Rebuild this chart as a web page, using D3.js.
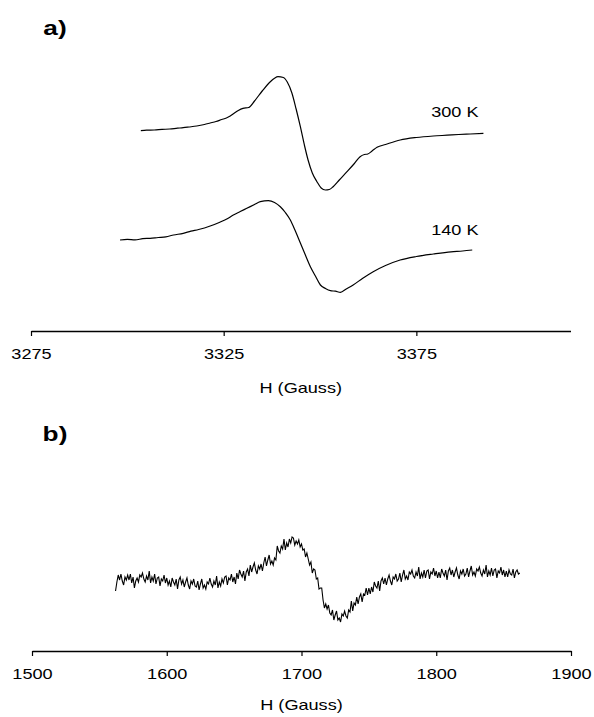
<!DOCTYPE html>
<html>
<head>
<meta charset="utf-8">
<script src="https://cdn.jsdelivr.net/npm/d3@7/dist/d3.min.js"></script>
<style>
body{margin:0;background:#fff;}
text{font-family:"Liberation Sans",Arial,sans-serif;fill:#000;}
</style>
</head>
<body>
<svg id="c" width="594" height="717"></svg>
<script>
// Tick labels and series labels
const ticksA = [3275, 3325, 3375];
const ticksB = [1500, 1600, 1700, 1800, 1900];
const seriesLabels = ["300 K", "140 K"];

// Panel a) spectra: [H (Gauss), intensity (a.u.)]
const spec300 = [
[3303.5,200.3],[3305,200.8],[3307,201],[3309,201.6],[3311,202],[3313,202.8],[3314.5,203.3],[3316,204],[3318,205],[3320,206.5],[3321.5,208],
[3323,209.5],[3324.5,211.5],[3325.7,213],[3326.7,215],[3327.8,218],[3328.8,220.5],[3330,222.6],[3331.5,223.5],[3333,230],[3335,240],
[3337.1,249.3],[3338.2,252.8],[3339.1,254.3],[3340.5,253.5],[3341.5,249],[3342.7,238],[3343.8,222],[3344.9,204.3],[3346,185],[3346.9,171],
[3348,158],[3349.2,149.3],[3350.3,143],[3351.4,141],[3352.4,141.5],[3353.4,144.3],[3355,151],[3357,159.3],[3358.8,167],[3360.4,174.3],
[3361.5,176.5],[3362.4,177],[3363.5,180],[3364.8,183.7],[3367,186.5],[3370.8,191],[3375,193.5],[3379.4,195],[3383,195.8],[3386,196.5],
[3389,197],[3392.4,197.7]
];

const spec140 = [
[3298.1,91],[3300,91.6],[3302,91.2],[3304,92.3],[3305.9,92.7],[3308,93.5],[3310,94.2],[3312,96],[3314.5,97.7],[3316.5,99.8],[3318.5,101.5],
[3321.5,105],[3324,108.8],[3325.8,112],[3327.5,116],[3329.3,119.5],[3331,122.7],[3333,126.5],[3334.5,129.3],[3336.6,130.3],[3338.2,128.5],
[3339.7,124.3],[3341,118.5],[3342.3,111],[3343.6,100],[3344.9,88],[3346.2,76],[3347.5,64.3],[3348.8,55],[3350.1,46],[3351.4,42.5],
[3352.7,40.3],[3354,39.8],[3355.3,38.7],[3356.8,42],[3358.6,46],[3361,52.5],[3363.8,59.3],[3367,65.5],[3370.8,71],[3375,74.5],
[3379.4,77],[3384,79.2],[3387,80],[3389.5,81]
];

// Panel b) spectrum: [H (Gauss), intensity (a.u.)]
const specB = [
[1562,60],[1563,69],[1564,76],[1565,71],[1566,77],[1567,70],[1568,66],[1569,74],[1570,71],[1571,76],
[1572,71],[1573,77],[1574,68],[1575,74],[1576,63],[1577,70],[1578,73],[1579,69],[1580,76],[1581,74],
[1582,78],[1583,72],[1584,69],[1585,75],[1586,71],[1587,80],[1588,68],[1589,74],[1590,70],[1591,77],
[1592,67],[1593,73],[1594,74],[1595,65],[1596,72],[1597,70],[1598,76],[1599,68],[1600,73],[1601,66],
[1602,70],[1603,64],[1604,73],[1605,69],[1606,66],[1607,72],[1608,62],[1609,71],[1610,74],[1611,67],
[1612,71],[1613,64],[1614,69],[1615,73],[1616,66],[1617,62],[1618,70],[1619,67],[1620,72],[1621,65],
[1622,64],[1623,70],[1624,61],[1625,67],[1626,72],[1627,63],[1628,66],[1629,62],[1630,69],[1631,67],
[1632,73],[1633,67],[1634,64],[1635,70],[1636,66],[1637,75],[1638,63],[1639,69],[1640,65],[1641,72],
[1642,68],[1643,74],[1644,75],[1645,66],[1646,73],[1647,71],[1648,77],[1649,69],[1650,74],[1651,67],
[1652,78],[1653,72],[1654,81],[1655,77],[1656,74],[1657,80],[1658,70],[1659,79],[1660,82],[1661,75],
[1662,86],[1663,79],[1664,84],[1665,88],[1666,81],[1667,77],[1668,85],[1669,82],[1670,87],[1671,80],
[1672,88],[1673,94],[1674,85],[1675,91],[1676,96],[1677,87],[1678,90],[1679,86],[1680,93],[1681,91],
[1682,105],[1683,100],[1684,98],[1685,105],[1686,102],[1687,112],[1688,101],[1689,108],[1690,104],[1691,112],
[1692,108],[1693,114],[1694,113],[1695,106],[1696,110],[1697,107],[1698,111],[1699,104],[1700,107],[1701,101],
[1702,102],[1703,94],[1704,98],[1705,92],[1706,86],[1707,89],[1708,78],[1709,82],[1710,81],[1711,72],
[1712,73],[1713,62],[1714,63],[1715,63],[1716,51],[1717,43],[1718,47],[1719,42],[1720,46],[1721,38],
[1722,36],[1723,41],[1724,31],[1725,36],[1726,40],[1727,31],[1728,33],[1729,29],[1730,37],[1731,35],
[1732,40],[1733,35],[1734,33],[1735,41],[1736,39],[1737,50],[1738,40],[1739,48],[1740,46],[1741,54],
[1742,47],[1743,54],[1744,57],[1745,49],[1746,57],[1747,56],[1748,63],[1749,56],[1750,63],[1751,57],
[1752,64],[1753,59],[1754,69],[1755,65],[1756,63],[1757,70],[1758,60],[1759,70],[1760,73],[1761,67],
[1762,73],[1763,66],[1764,72],[1765,76],[1766,70],[1767,66],[1768,74],[1769,72],[1770,77],[1771,70],
[1772,72],[1773,78],[1774,69],[1775,76],[1776,81],[1777,72],[1778,75],[1779,71],[1780,79],[1781,77],
[1782,81],[1783,75],[1784,73],[1785,79],[1786,75],[1787,84],[1788,72],[1789,78],[1790,74],[1791,81],
[1792,73],[1793,80],[1794,81],[1795,72],[1796,79],[1797,77],[1798,83],[1799,75],[1800,80],[1801,73],
[1802,79],[1803,73],[1804,82],[1805,78],[1806,75],[1807,81],[1808,71],[1809,80],[1810,83],[1811,76],
[1812,81],[1813,74],[1814,79],[1815,83],[1816,76],[1817,72],[1818,80],[1819,77],[1820,82],[1821,75],
[1822,77],[1823,83],[1824,74],[1825,80],[1826,85],[1827,76],[1828,79],[1829,75],[1830,82],[1831,80],
[1832,84],[1833,78],[1834,75],[1835,81],[1836,77],[1837,86],[1838,74],[1839,80],[1840,76],[1841,83],
[1842,75],[1843,81],[1844,82],[1845,73],[1846,80],[1847,78],[1848,84],[1849,76],[1850,81],[1851,74],
[1852,80],[1853,74],[1854,81],[1855,77],[1856,76],[1857,82],[1858,73],[1859,79],[1860,81],[1861,77],
[1862,78]
];

const FS = 14.5, SX = 1.25;
const svg = d3.select("#c");

function label(x, y, txt, size, bold) {
  const g = svg.append("g").attr("transform", `translate(${x},${y}) scale(${SX},1)`);
  g.append("text").attr("text-anchor", "middle").style("font-size", size + "px")
    .style("font-weight", bold ? "bold" : "normal").text(txt);
}

function styleAxis(ax) {
  ax.select(".domain").attr("stroke", "#000").attr("stroke-width", 1.3);
  ax.selectAll(".tick line").attr("stroke", "#000").attr("stroke-width", 1.2);
  ax.selectAll(".tick text").style("font-size", FS + "px").attr("fill", "#000")
    .attr("transform", `scale(${SX},1)`);
  ax.attr("font-family", null).attr("font-size", null);
}

// ---- Panel a
const xA = d3.scaleLinear().domain([3275, 3415]).range([31, 570.5]);
const yA = d3.scaleLinear().domain([0, 300]).range([331, 31]);
const axA = svg.append("g").attr("transform", `translate(0,${yA(0)})`)
  .call(d3.axisBottom(xA).tickValues(ticksA).tickFormat(d3.format("d")).tickSize(5).tickSizeOuter(0).tickPadding(13));
styleAxis(axA);
label((xA.range()[0] + xA.range()[1]) / 2, 393, "H (Gauss)", FS, false);

const lineA = d3.line().x(d => xA(d[0])).y(d => yA(d[1])).curve(d3.curveMonotoneX);
svg.append("path").datum(spec300).attr("d", lineA).attr("fill", "none").attr("stroke", "#000").attr("stroke-width", 1.2);
svg.append("path").datum(spec140).attr("d", lineA).attr("fill", "none").attr("stroke", "#000").attr("stroke-width", 1.2);

label(xA(3385), yA(214), seriesLabels[0], FS, false);
label(xA(3385), yA(96), seriesLabels[1], FS, false);
label(55, 35, "a)", 21, true);

// ---- Panel b
const xB = d3.scaleLinear().domain([1500, 1900]).range([32, 571]);
const yB = d3.scaleLinear().domain([0, 620]).range([651, 31]);
const axB = svg.append("g").attr("transform", `translate(0,${yB(0)})`)
  .call(d3.axisBottom(xB).tickValues(ticksB).tickFormat(d3.format("d")).tickSize(5).tickSizeOuter(0).tickPadding(13));
styleAxis(axB);
label((xB.range()[0] + xB.range()[1]) / 2, 710, "H (Gauss)", FS, false);

const lineB = d3.line().x(d => xB(d[0])).y(d => yB(d[1]));
svg.append("path").datum(specB).attr("d", lineB).attr("fill", "none").attr("stroke", "#000").attr("stroke-width", 1.1);

label(55, 441, "b)", 21, true);
</script>
</body>
</html>
